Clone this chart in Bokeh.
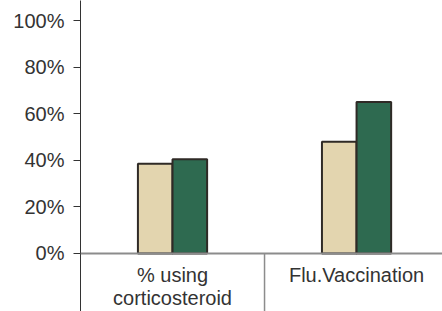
from bokeh.plotting import figure
from bokeh.models import Range1d, FixedTicker, Span, ColumnDataSource
from bokeh.core.properties import value
from bokeh.embed import file_html
from bokeh.resources import INLINE

categories = ["% using\ncorticosteroid", "Flu.Vaccination"]
series_a = [0.385, 0.48]   # light bars
series_b = [0.405, 0.65]   # dark bars
y_ticks = [0, 0.2, 0.4, 0.6, 0.8, 1.0]
y_tick_labels = ["0%", "20%", "40%", "60%", "80%", "100%"]

centers = [i + 0.5 for i in range(len(categories))]
bw = 0.188

p = figure(width=442, height=311, output_backend="svg", toolbar_location=None,
           x_range=Range1d(0, 1.967), y_range=Range1d(-0.249, 1.086),
           min_border_left=80, min_border_right=0, min_border_top=0, min_border_bottom=0)
p.xaxis.visible = False
p.xgrid.visible = False
p.ygrid.visible = False
p.outline_line_color = None

src_a = ColumnDataSource(dict(x=[c - bw / 2 for c in centers], top=series_a))
src_b = ColumnDataSource(dict(x=[c + bw / 2 for c in centers], top=series_b))
p.vbar(x="x", top="top", bottom=0, width=bw, source=src_a,
       fill_color="#E3D5AF", line_color="#2f2a26", line_width=2)
p.vbar(x="x", top="top", bottom=0, width=bw, source=src_b,
       fill_color="#2E6A50", line_color="#2f2a26", line_width=2)

p.add_layout(Span(location=0, dimension="width", line_color="#8c8c8c", line_width=2))
for i in range(1, len(categories)):
    p.segment(x0=[i], y0=[0], x1=[i], y1=[-0.3], line_color="#8c8c8c", line_width=1.5)

label_src = ColumnDataSource(dict(x=centers, y=[-0.043] * len(categories), text=categories))
p.text(x="x", y="y", text="text", source=label_src, text_align="center",
       text_baseline="top", text_font=value("Liberation Sans"), text_font_size="20px",
       text_color="#333333", text_line_height=1.05)

yax = p.yaxis[0]
yax.ticker = FixedTicker(ticks=y_ticks)
yax.major_label_overrides = {t: l for t, l in zip(y_ticks, y_tick_labels)}
yax.minor_tick_line_color = None
yax.major_tick_out = 7
yax.major_tick_in = 0
yax.major_label_standoff = 9
yax.major_label_text_font = "Liberation Sans"
yax.major_label_text_font_size = "20px"
yax.major_label_text_color = "#333333"
yax.axis_line_color = "#333333"
yax.major_tick_line_color = "#333333"

open("out.html", "w").write(file_html(p, INLINE))
